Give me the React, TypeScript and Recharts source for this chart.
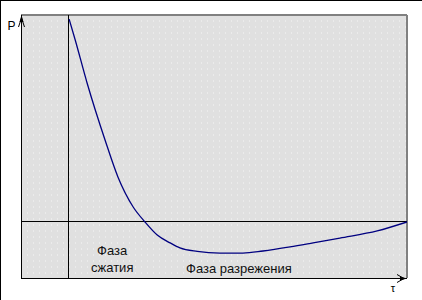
import React from 'react';
import {
  LineChart, Line, XAxis, YAxis, CartesianGrid, ReferenceLine, ReferenceDot,
} from 'recharts';

// time (arbitrary units) and pressure (arbitrary units)
const tau = [0.3, 2.1, 5.6, 10.9, 14.7, 19.2, 22.7, 26.3, 30.1, 33.0, 38.1, 44.8, 51.6, 57.5, 65.5, 72.3, 80.2, 91.2, 100];
const pressure = [100, 89.7, 68.5, 40.4, 22.2, 7.4, 0, -6.4, -10.3, -12.8, -14.5, -15.3, -15.3, -14.3, -12.3, -10.3, -7.9, -4.4, 0];

const tauDomain: [number, number] = [-13.9, 100];
const pDomain: [number, number] = [-27.6, 102];

const labelCompression = ['Фаза', 'сжатия'];
const labelRarefaction = 'Фаза разрежения';
const axisP = 'P';
const axisTau = 'τ';

const data = tau.map((t, i) => ({ t, p: pressure[i] }));

const FONT = '"Liberation Sans", Arial, sans-serif';

const XArrow = (props: any) => {
  const x = Math.round(props.cx);
  const y = Math.round(props.cy) + 0.5;
  return (
    <g>
      <path d={`M${x},${y} L${x - 7},${y - 2} L${x - 7},${y + 2} Z`} fill="#000" />
      <path d={`M${x - 3},${y} L${x - 10},${y - 4} M${x - 3},${y} L${x - 10},${y + 4}`} stroke="#000" strokeWidth={1} fill="none" />
      <text x={x - 14} y={y + 9} textAnchor="middle" dominantBaseline="central" fontFamily={FONT} fontSize={11} fill="#000">{axisTau}</text>
    </g>
  );
};

const YArrow = (props: any) => {
  const x = Math.round(props.cx) + 0.5;
  const y = Math.round(props.cy);
  return (
    <g>
      <path d={`M${x},${y} L${x - 2},${y + 7} L${x + 2},${y + 7} Z`} fill="#000" />
      <path d={`M${x},${y + 3} L${x - 3},${y + 12} M${x},${y + 3} L${x + 3},${y + 12}`} stroke="#000" strokeWidth={1} fill="none" />
      <text x={x - 10} y={y + 11} textAnchor="middle" dominantBaseline="central" fontFamily={FONT} fontSize={12} fill="#000">{axisP}</text>
    </g>
  );
};

const lineProps = { shapeRendering: 'crispEdges' } as any;

export default function App() {
  return (
    <div style={{ position: 'absolute', left: 0, top: 0, width: 422, height: 300, background: '#fff' }}>
      <LineChart width={422} height={300} data={data} margin={{ top: 15, right: 15, bottom: 22, left: 21 }}>
        <CartesianGrid
          vertical={false}
          fill="#e0e0e0"
          stroke="#f6f6f6"
          strokeDasharray="1 5"
          horizontalCoordinatesGenerator={({ offset }: any) => {
            const out: number[] = [];
            for (let y = offset.top + 6; y < offset.top + offset.height; y += 6) out.push(y);
            return out;
          }}
        />
        <XAxis type="number" dataKey="t" domain={tauDomain} allowDataOverflow hide />
        <YAxis type="number" dataKey="p" domain={pDomain} allowDataOverflow hide />
        <ReferenceLine y={pDomain[1]} stroke="#808080" strokeWidth={1.5} ifOverflow="visible" {...lineProps} />
        <ReferenceLine x={tauDomain[1]} stroke="#808080" strokeWidth={1.5} ifOverflow="visible" {...lineProps} />
        <ReferenceLine x={tauDomain[0]} stroke="#000" strokeWidth={1} ifOverflow="visible" {...lineProps} />
        <ReferenceLine y={pDomain[0]} stroke="#000" strokeWidth={1} ifOverflow="visible" {...lineProps} />
        <ReferenceLine x={0} stroke="#000" strokeWidth={1} {...lineProps} />
        <ReferenceLine y={0} stroke="#000" strokeWidth={1} {...lineProps} />
        <Line
          type="monotone"
          dataKey="p"
          stroke="#000080"
          strokeWidth={1.3}
          dot={false}
          isAnimationActive={false}
        />
        <ReferenceDot x={tauDomain[1]} y={pDomain[0]} ifOverflow="visible" shape={(p: any) => <XArrow {...p} />} />
        <ReferenceDot x={tauDomain[0]} y={pDomain[1]} ifOverflow="visible" shape={(p: any) => <YArrow {...p} />} />
        <ReferenceDot x={13.0} y={-13.8} r={0} fill="none" stroke="none"
          label={{ value: labelCompression[0], position: 'center', fontFamily: FONT, fontSize: 13, fill: '#111' }} />
        <ReferenceDot x={13.0} y={-22.2} r={0} fill="none" stroke="none"
          label={{ value: labelCompression[1], position: 'center', fontFamily: FONT, fontSize: 13, fill: '#111' }} />
        <ReferenceDot x={50.4} y={-22.7} r={0} fill="none" stroke="none"
          label={{ value: labelRarefaction, position: 'center', fontFamily: FONT, fontSize: 13, fill: '#111' }} />
      </LineChart>
      <div style={{ position: 'absolute', left: 0, top: 0, width: 422, height: 300, borderLeft: '1px solid #000', borderTop: '1px solid #000', boxSizing: 'border-box', pointerEvents: 'none' }} />
    </div>
  );
}
